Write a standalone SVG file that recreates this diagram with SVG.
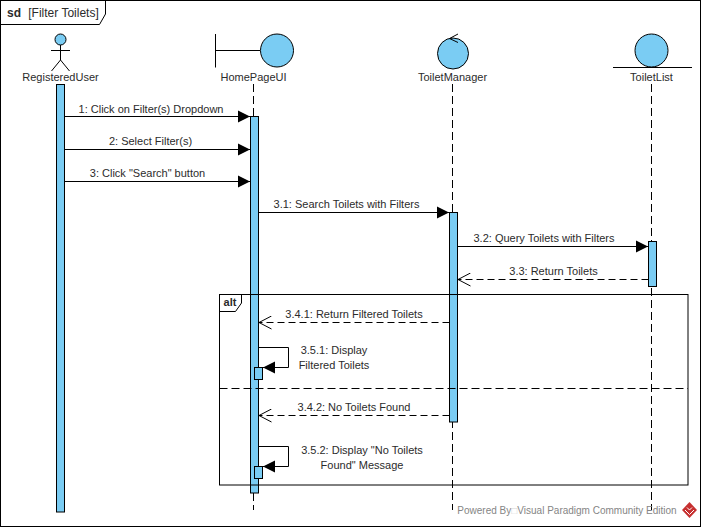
<svg xmlns="http://www.w3.org/2000/svg" width="701" height="527" viewBox="0 0 701 527">
<style>
text{font-family:"Liberation Sans",Arial,sans-serif;font-size:11px;fill:#2b2b2b;text-anchor:middle}
.s{fill:none;stroke:#000;stroke-width:1}
.b{fill:#7accf3;stroke:#000;stroke-width:1}
.d{fill:none;stroke:#000;stroke-width:1;stroke-dasharray:8 4}
.m{fill:none;stroke:#000;stroke-width:1;marker-end:url(#f)}
.r{fill:none;stroke:#000;stroke-width:1;stroke-dasharray:7 4;marker-end:url(#o)}
</style>
<defs>
<marker id="f" markerUnits="userSpaceOnUse" markerWidth="13" markerHeight="14" refX="12" refY="6.500" orient="auto"><path d="M0 0.500L12 6.500L0 12.500Z" fill="#000"/></marker>
<marker id="o" markerUnits="userSpaceOnUse" markerWidth="14" markerHeight="14" refX="13" refY="7" orient="auto"><path d="M0.500 0.500L13 7L0.500 13.500" fill="none" stroke="#000"/></marker>
</defs>
<rect width="701" height="527" fill="#fff"/>
<g id="frame">
<rect class="s" x="0.500" y="0.500" width="700" height="526"/>
<path class="s" d="M0.500 24.500H99.500L105.500 14V0.500"/>
<text x="14" y="17" style="font-weight:bold;font-size:12px">sd</text>
<text x="63.500" y="17" style="font-size:12px">[Filter Toilets]</text>
</g>
<g id="lifelines">
<path class="d" d="M253.500 84V116M253.500 493V510"/>
<path class="d" d="M452.500 84V510"/>
<path class="d" d="M651.500 84V510"/>
</g>
<g id="RegisteredUser">
<circle class="b" cx="60.500" cy="39.500" r="5.500"/>
<path class="s" d="M60.500 45V60M51 50.500H70M60.500 60L51.500 71M60.500 60L69.500 71"/>
<text x="60.500" y="81">RegisteredUser</text>
<rect class="b" x="56.500" y="84.500" width="8" height="427.500"/>
</g>
<g id="HomePageUI">
<path class="s" d="M215.500 34V67.500M215.500 50.500H260"/>
<circle class="b" cx="277" cy="50.500" r="16.500"/>
<text x="253.500" y="81">HomePageUI</text>
<rect class="b" x="250.500" y="116.500" width="8" height="376.500"/>
</g>
<g id="ToiletManager">
<circle class="b" cx="453" cy="53.500" r="15.500"/>
<path class="s" d="M458 34L449.500 38.500L458 42.500"/>
<text x="452.500" y="81">ToiletManager</text>
<rect class="b" x="449.500" y="212.500" width="8" height="209.500"/>
</g>
<g id="ToiletList">
<circle class="b" cx="651.500" cy="50.500" r="16.500"/>
<path class="s" d="M613 67.500H692"/>
<text x="651.500" y="81">ToiletList</text>
<rect class="b" x="648.500" y="241.500" width="8" height="45"/>
</g>
<g id="alt">
<rect class="s" x="219.500" y="294.500" width="468.500" height="190.500"/>
<path class="s" d="M219.500 311.500H235.500L241.500 303V294.500"/>
<text x="230" y="306" style="font-weight:bold">alt</text>
<path class="d" d="M219.500 388.500H688"/>
</g>
<g id="connectors">
<path class="m" d="M64.500 116.500H250"/>
<text x="151" y="113">1: Click on Filter(s) Dropdown</text>
<path class="m" d="M64.500 149.500H250"/>
<text x="150.500" y="145">2: Select Filter(s)</text>
<path class="m" d="M64.500 181.500H250"/>
<text x="147.500" y="177">3: Click "Search" button</text>
<path class="m" d="M258.500 212.500H449"/>
<text x="346.500" y="208">3.1: Search Toilets with Filters</text>
<path class="m" d="M457.500 246.500H648"/>
<text x="544" y="242">3.2: Query Toilets with Filters</text>
<path class="r" d="M648.500 279.500H458"/>
<text x="553.500" y="275">3.3: Return Toilets</text>
<path class="r" d="M449.500 322.500H259"/>
<text x="354" y="318">3.4.1: Return Filtered Toilets</text>
<rect class="b" x="254.500" y="367.500" width="8" height="12"/>
<path class="m" d="M258.500 347.500H288.500V367.500H263"/>
<text x="334" y="354">3.5.1: Display</text>
<text x="334" y="369">Filtered Toilets</text>
<path class="r" d="M449.500 415.500H259"/>
<text x="354" y="411">3.4.2: No Toilets Found</text>
<rect class="b" x="254.500" y="466.500" width="8" height="12"/>
<path class="m" d="M258.500 446.500H288.500V466.500H263"/>
<text x="362" y="454">3.5.2: Display "No Toilets</text>
<text x="362" y="469">Found" Message</text>
</g>
<g id="watermark">
<text x="567" y="514" style="fill:#858585;font-size:10px">Powered By<tspan style="fill:#d5d5d5">□</tspan>Visual Paradigm Community Edition</text>
<path d="M689.500 502L697 510L689.500 518L682 510Z" fill="#c62f2f"/>
<path d="M685 510L689.500 514.500L694 510M687 507.500L689.500 510L692 507.500" fill="none" stroke="#fff" stroke-width="1"/>
</g>
</svg>
